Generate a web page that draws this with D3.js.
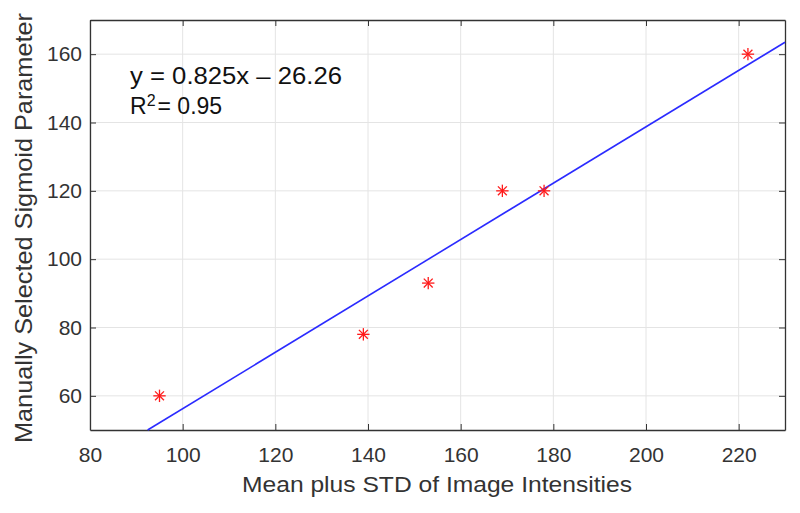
<!DOCTYPE html>
<html><head><meta charset="utf-8">
<script src="https://cdn.jsdelivr.net/npm/d3@7"></script>
<style>body{margin:0;background:#fff}svg{display:block}text{font-family:"Liberation Sans",Arial,sans-serif}</style>
</head><body>
<svg id="c" width="800" height="513"></svg>
<script>
const xValues = [95, 139, 153, 169, 178, 222];
const yValues = [60, 78, 93, 120, 120, 160];
const xTicks = [80, 100, 120, 140, 160, 180, 200, 220];
const yTicks = [60, 80, 100, 120, 140, 160];
const slope = 0.825, intercept = -26.26;
const eqText = "y = 0.825x \u2013 26.26";

const svg = d3.select("#c");
const L = 90, R = 785, T = 20, B = 430;
const x = d3.scaleLinear().domain([80, 230]).range([L, R]);
const y = d3.scaleLinear().domain([50, 170]).range([B, T]);
const axisCol = "#333333";

// grid
svg.append("g").selectAll("line").data(xTicks).join("line")
  .attr("x1", d => x(d)).attr("x2", d => x(d)).attr("y1", T).attr("y2", B)
  .attr("stroke", "#e4e4e4").attr("stroke-width", 1);
svg.append("g").selectAll("line").data(yTicks).join("line")
  .attr("y1", d => y(d)).attr("y2", d => y(d)).attr("x1", L).attr("x2", R)
  .attr("stroke", "#e4e4e4").attr("stroke-width", 1);

// axes
const fs = "21px";
const gx = svg.append("g").attr("transform", `translate(0,${B})`)
  .call(d3.axisBottom(x).tickValues(xTicks).tickSizeInner(-6).tickSizeOuter(0).tickPadding(17));
const gxt = svg.append("g").attr("transform", `translate(0,${T})`)
  .call(d3.axisTop(x).tickValues(xTicks).tickSizeInner(-6).tickSizeOuter(0).tickFormat(""));
const gy = svg.append("g").attr("transform", `translate(${L},0)`)
  .call(d3.axisLeft(y).tickValues(yTicks).tickSizeInner(-6).tickSizeOuter(0).tickPadding(8));
const gyr = svg.append("g").attr("transform", `translate(${R},0)`)
  .call(d3.axisRight(y).tickValues(yTicks).tickSizeInner(-6).tickSizeOuter(0).tickFormat(""));
[gx, gxt, gy, gyr].forEach(g => {
  g.select(".domain").attr("stroke", axisCol).attr("stroke-width", 1.3);
  g.selectAll(".tick line").attr("stroke", axisCol);
  g.selectAll("text").attr("fill", axisCol).style("font-size", fs).style("font-family", '"Liberation Sans",Arial,sans-serif');
});

// fit line
const x0 = (50 - intercept) / slope;
svg.append("line")
  .attr("x1", x(x0)).attr("y1", y(50))
  .attr("x2", x(230)).attr("y2", y(slope * 230 + intercept))
  .attr("stroke", "#2b2bff").attr("stroke-width", 1.6);

// markers (asterisks)
const s = 6.2;
const mk = svg.append("g").selectAll("g").data(xValues.map((v, i) => [v, yValues[i]])).join("g")
  .attr("transform", d => `translate(${x(d[0])},${y(d[1])})`)
  .attr("stroke", "#ff1a1a").attr("stroke-width", 1.3);
mk.append("line").attr("x1", -s).attr("x2", s).attr("y1", 0).attr("y2", 0);
mk.append("line").attr("x1", 0).attr("x2", 0).attr("y1", -s).attr("y2", s);
mk.append("line").attr("x1", -s*0.72).attr("x2", s*0.72).attr("y1", -s*0.72).attr("y2", s*0.72);
mk.append("line").attr("x1", -s*0.72).attr("x2", s*0.72).attr("y1", s*0.72).attr("y2", -s*0.72);

// annotation
svg.append("text").attr("x", 130).attr("y", 84).attr("fill", "#111").style("font-size", "23px")
  .attr("textLength", 212).attr("lengthAdjust", "spacingAndGlyphs").text(eqText);
const r2 = svg.append("text").attr("x", 130).attr("y", 114).attr("fill", "#111").style("font-size", "23px");
r2.append("tspan").text("R");
r2.append("tspan").attr("dy", -8).style("font-size", "16px").text("2");
r2.append("tspan").attr("dy", 8).attr("dx", 2).text("= 0.95");

// axis labels
svg.append("text").attr("x", 242).attr("y", 492)
  .attr("fill", axisCol).style("font-size", "22px")
  .attr("textLength", 390).attr("lengthAdjust", "spacingAndGlyphs").text("Mean plus STD of Image Intensities");
svg.append("text").attr("transform", `translate(32,443) rotate(-90)`)
  .attr("fill", axisCol).style("font-size", "24px")
  .attr("textLength", 430).attr("lengthAdjust", "spacingAndGlyphs").text("Manually Selected Sigmoid Parameter");
</script>
</body></html>
